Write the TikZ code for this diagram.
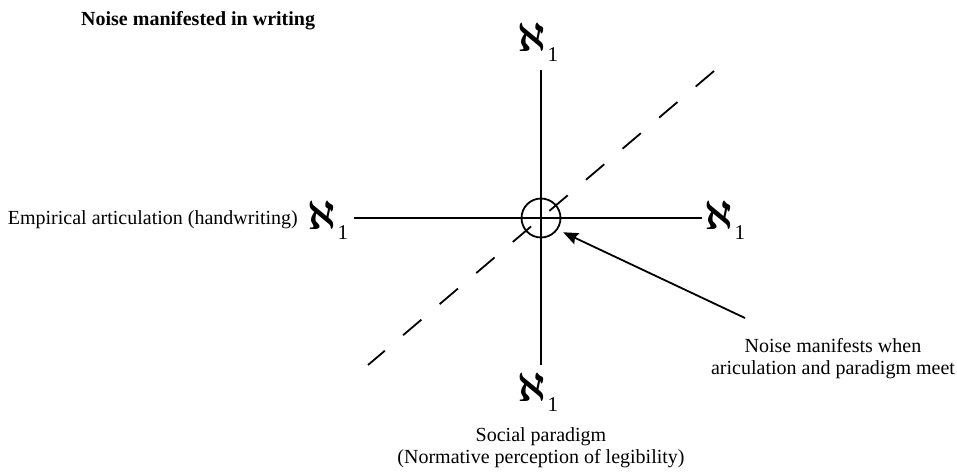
\documentclass[tikz,border=0pt]{standalone}
\usepackage{amsmath}
\usepackage{fontspec}
\setmainfont{Liberation Serif}
\usetikzlibrary{arrows.meta}

% bold aleph with a lowered subscript one
\newcommand\alefsub{\scalebox{4.1}{\normalsize$\boldsymbol{\aleph}$}\kern1.5pt\raisebox{-10pt}{\fontsize{21}{21}\selectfont 1}}

\begin{document}
\begin{tikzpicture}[x=1pt,y=-1pt,
  axis/.style={line width=1.8pt},
  diag/.style={line width=1.8pt, dash pattern=on 24pt off 24pt},
  label/.style={font=\fontsize{20}{22}\selectfont, align=center, inner sep=0pt},
  alef/.style={inner sep=0pt, anchor=base west},
  pointer/.style={line width=1.8pt, -{Stealth[length=15pt,width=12pt,inset=2pt]}}]
\useasboundingbox (0,0) rectangle (957,475);

% title
\node[label, font=\fontsize{20}{22}\selectfont\bfseries, anchor=base west] (title) at (81,25) {Noise manifested in writing};

% end labels of the two axes
\node[alef] (top) at (517,51) {\alefsub};
\node[alef] (left) at (307,229) {\alefsub};
\node[alef] (right) at (704,229) {\alefsub};
\node[alef] (bottom) at (517,401) {\alefsub};

% axes
\coordinate (vtop) at (541,70);
\coordinate (vbot) at (541,365);
\coordinate (hleft) at (354,218);
\coordinate (hright) at (702,218);
\draw[axis] (vtop) -- (vbot);
\draw[axis] (hleft) -- (hright);

% dashed diagonal
\coordinate (dtop) at (714,71);
\coordinate (dbot) at (368,365);
\draw[diag] (dtop) -- (dbot);

% meeting point
\node[draw, circle, line width=1.8pt, minimum size=39pt, inner sep=0pt] (ring) at (541,218) {};

% captions
\node[label, anchor=base east] (emp) at (298,224) {Empirical articulation (handwriting)};
\node[label, anchor=base] (note) at (833,374) {Noise manifests when\\ariculation and paradigm meet};
\node[label, anchor=base] (social) at (541,463) {Social paradigm\\(Normative perception of legibility)};

% pointer to the meeting point
\coordinate (pstart) at (745,318);
\draw[pointer, shorten >=6pt] (pstart) -- (ring.-35);
\end{tikzpicture}
\end{document}
